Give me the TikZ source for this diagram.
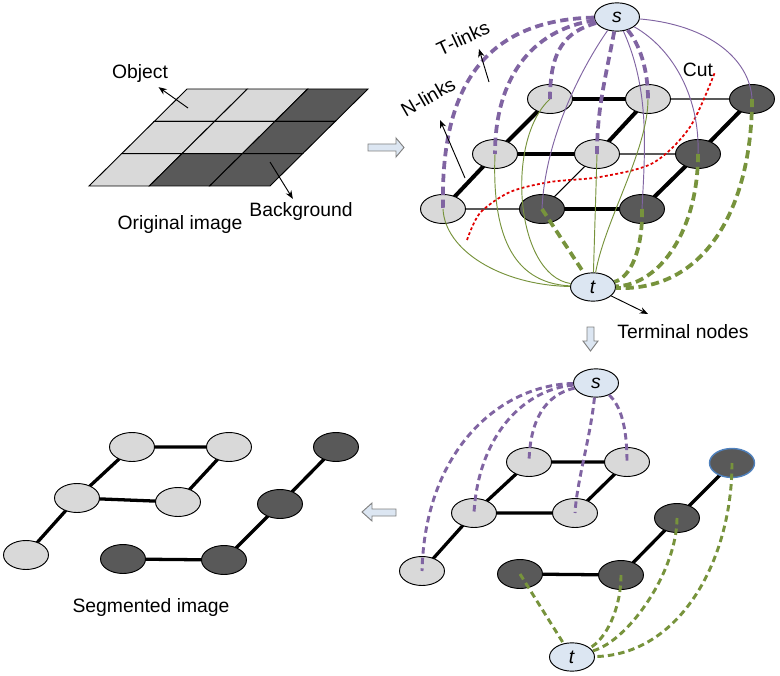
\documentclass[tikz,border=0pt]{standalone}
\usepackage{fontspec}
\setmainfont{Liberation Sans}
\usetikzlibrary{shapes.geometric,arrows.meta}
\definecolor{lightcell}{HTML}{D9D9D9}
\definecolor{darkcell}{HTML}{595959}
\definecolor{termblue}{HTML}{DCE6F2}
\definecolor{linkpurple}{HTML}{8064A2}
\definecolor{linkgreen}{HTML}{77933C}
\definecolor{cutred}{HTML}{E00000}
\begin{document}
\begin{tikzpicture}[>={Stealth[length=7pt,width=5.5pt]},x=0.03cm,y=-0.03cm,
    font=\fontsize{16.5}{19}\selectfont,
    lnode/.style={ellipse,draw,line width=0.8pt,fill=lightcell,minimum width=1.35cm,minimum height=0.87cm,inner sep=0pt},
    dnode/.style={lnode,fill=darkcell},
    term/.style={lnode,fill=termblue,minimum height=0.85cm},
    nthick/.style={line width=3.4pt},
    nthin/.style={line width=0.9pt},
    nseg/.style={line width=2.8pt},
    sdash/.style={draw=linkpurple,line width=3.2pt,dash pattern=on 7pt off 4pt},
    ssolid/.style={draw=linkpurple,line width=0.8pt},
    tdash/.style={draw=linkgreen,line width=3.2pt,dash pattern=on 7pt off 4pt},
    tsolid/.style={draw=linkgreen,line width=0.8pt},
    sdash2/.style={sdash,line width=2.5pt,dash pattern=on 5.5pt off 3.5pt},
    tdash2/.style={tdash,line width=2.5pt,dash pattern=on 5.5pt off 3.5pt},
    blockarrow/.style={fill=termblue,draw=gray,line width=0.8pt}]
  \useasboundingbox (0,0) rectangle (780,676);

  % original image
  \foreach \r/\c/\f in {0/0/lightcell,0/1/lightcell,0/2/darkcell,1/0/lightcell,1/1/lightcell,1/2/darkcell,2/0/lightcell,2/1/darkcell,2/2/darkcell}
    \filldraw[fill=\f,line width=0.8pt] ({187+60.33*\c-32.67*\r},{89+32.33*\r}) -- ++(60.33,0) -- ++(-32.67,32.33) -- ++(-60.33,0) -- cycle;
  \node (objlbl) at (140,74) {Object};
  \node (bglbl) at (301,212) {Background};
  \node (origlbl) at (180,225) {Original image};
  \coordinate (objfoot) at (188,108);
  \coordinate (bgfoot) at (270,162);
  \draw[->,line width=0.8pt] (objfoot) -- (objlbl);
  \draw[->,line width=0.8pt] (bgfoot) -- (bglbl);

  % block arrows
  \filldraw[blockarrow] (368,144) -- (396,144) -- (396,138) -- (404,147.5) -- (396,157) -- (396,151) -- (368,151) -- cycle;
  \filldraw[blockarrow] (587,327) -- (594,327) -- (594,341) -- (598,341) -- (590.5,351) -- (583,341) -- (587,341) -- cycle;
  \filldraw[blockarrow] (362,512) -- (372,503) -- (372,509) -- (396,509) -- (396,516) -- (372,516) -- (372,521) -- cycle;

  % graph with s and t
  \draw[nthick] (550,99) -- (648,99) (495,154) -- (597,154) (542,209) -- (642,209)
    (443,209) -- (495,154) -- (550,99) (597,154) -- (648,99) (642,209) -- (698,154) -- (752,99);
  \draw[nthin] (648,99) -- (752,99) (597,154) -- (698,154) (443,209) -- (542,209) (542,209) -- (597,154);
  \foreach \n/\x/\y in {g00/550/99,g01/648/99,g10/495/154,g11/597/154,g20/443/209}
    \node[lnode] (\n) at (\x,\y) {};
  \foreach \n/\x/\y in {g02/752/99,g12/698/154,g21/542/209,g22/642/209}
    \node[dnode] (\n) at (\x,\y) {};
  \node[term] (s1) at (617,17) {\textit{s}};
  \node[term] (t1) at (593,287) {\textit{t}};

  \draw[cutred,line width=1.5pt,dash pattern=on 2.5pt off 2pt] plot[smooth] coordinates {(467,240) (480,213) (510,192) (550,182) (600,177) (653,163) (690,127) (715,72)};
  \node (cutlbl) at (698,70) {Cut};

  \draw[sdash] (s1) .. controls (490,20) and (440,80) .. (g20.center);
  \draw[sdash] (s1) .. controls (530,30) and (495,80) .. (g10.center);
  \draw[sdash] (s1) .. controls (565,32) and (550,50) .. (g00.center);
  \draw[sdash] (s1) .. controls (605,80) and (597,110) .. (g11.center);
  \draw[sdash] (s1) .. controls (640,45) and (648,70) .. (g01.center);
  \draw[ssolid] (s1) .. controls (580,70) and (545,140) .. (g21.center);
  \draw[ssolid] (s1) .. controls (650,90) and (645,150) .. (g22.center);
  \draw[ssolid] (s1) .. controls (675,50) and (700,100) .. (g12.center);
  \draw[ssolid] (s1) .. controls (710,25) and (750,60) .. (g02.center);

  \draw[tsolid] (t1) .. controls (500,285) and (445,250) .. (g20.center);
  \draw[tsolid] (t1) .. controls (510,283) and (492,230) .. (g10.center);
  \draw[tsolid] (t1) .. controls (515,275) and (505,140) .. (g00.center);
  \draw[tsolid] (t1) -- (g11.center);
  \draw[tsolid] (t1) .. controls (605,220) and (648,150) .. (g01.center);
  \draw[tdash] (g21.center) -- (t1);
  \draw[tdash] (g22.center) .. controls (643,250) and (630,278) .. (t1);
  \draw[tdash] (g12.center) .. controls (698,230) and (660,285) .. (t1);
  \draw[tdash] (g02.center) .. controls (752,200) and (710,292) .. (t1);

  \node[rotate=25] (tlinks) at (463,38) {T-links};
  \node[rotate=30] (nlinks) at (428,97) {N-links};
  \coordinate (tlfoot) at (489,82);
  \coordinate (tltip) at (479,49);
  \coordinate (nlfoot) at (465,178);
  \coordinate (nltip) at (440,120);
  \draw[->,line width=0.8pt] (tlfoot) -- (tltip);
  \draw[->,line width=0.8pt] (nlfoot) -- (nltip);
  \node (termlbl) at (683,332) {Terminal nodes};
  \coordinate (termtip) at (648,314);
  \draw[->,line width=0.8pt] (t1) -- (termtip);

  % graph after the cut
  \draw[nseg] (422,571) -- (474,513) -- (529,462) -- (627,462) -- (575,513) -- (474,513)
    (520,574) -- (621,575) -- (677,518) -- (732,463);
  \foreach \n/\x/\y in {h00/529/462,h01/627/462,h10/474/513,h11/575/513,h20/422/571}
    \node[lnode] (\n) at (\x,\y) {};
  \foreach \n/\x/\y in {h12/677/518,h21/520/574,h22/621/575}
    \node[dnode] (\n) at (\x,\y) {};
  \node[dnode,draw={rgb,255:red,79;green,129;blue,189},line width=1.2pt] (h02) at (732,463) {};
  \node[term] (s2) at (596,383) {\textit{s}};
  \node[term] (t2) at (572,657) {\textit{t}};

  \draw[sdash2] (s2) .. controls (500,385) and (425,450) .. (h20.center);
  \draw[sdash2] (s2) .. controls (520,390) and (478,440) .. (h10.center);
  \draw[sdash2] (s2) .. controls (545,395) and (530,420) .. (h00.center);
  \draw[sdash2] (s2) .. controls (590,440) and (577,480) .. (h11.center);
  \draw[sdash2] (s2) .. controls (620,405) and (627,425) .. (h01.center);
  \draw[tdash2] (h21.center) -- (t2);
  \draw[tdash2] (h22.center) .. controls (621,610) and (605,640) .. (t2);
  \draw[tdash2] (h12.center) .. controls (677,570) and (630,640) .. (t2);
  \draw[tdash2] (h02.center) .. controls (732,560) and (680,655) .. (t2);

  % segmented image
  \draw[nseg] (26,555) -- (77,498) -- (132,447) -- (229,447) -- (178,502) -- (77,498)
    (123,559) -- (224,560) -- (280,504) -- (336,447);
  \foreach \n/\x/\y in {k00/132/447,k01/229/447,k10/77/498,k11/178/502,k20/26/555}
    \node[lnode] (\n) at (\x,\y) {};
  \foreach \n/\x/\y in {k02/336/447,k12/280/504,k21/123/559,k22/224/560}
    \node[dnode] (\n) at (\x,\y) {};
  \node (seglbl) at (151,607) {Segmented image};
\end{tikzpicture}
\end{document}
